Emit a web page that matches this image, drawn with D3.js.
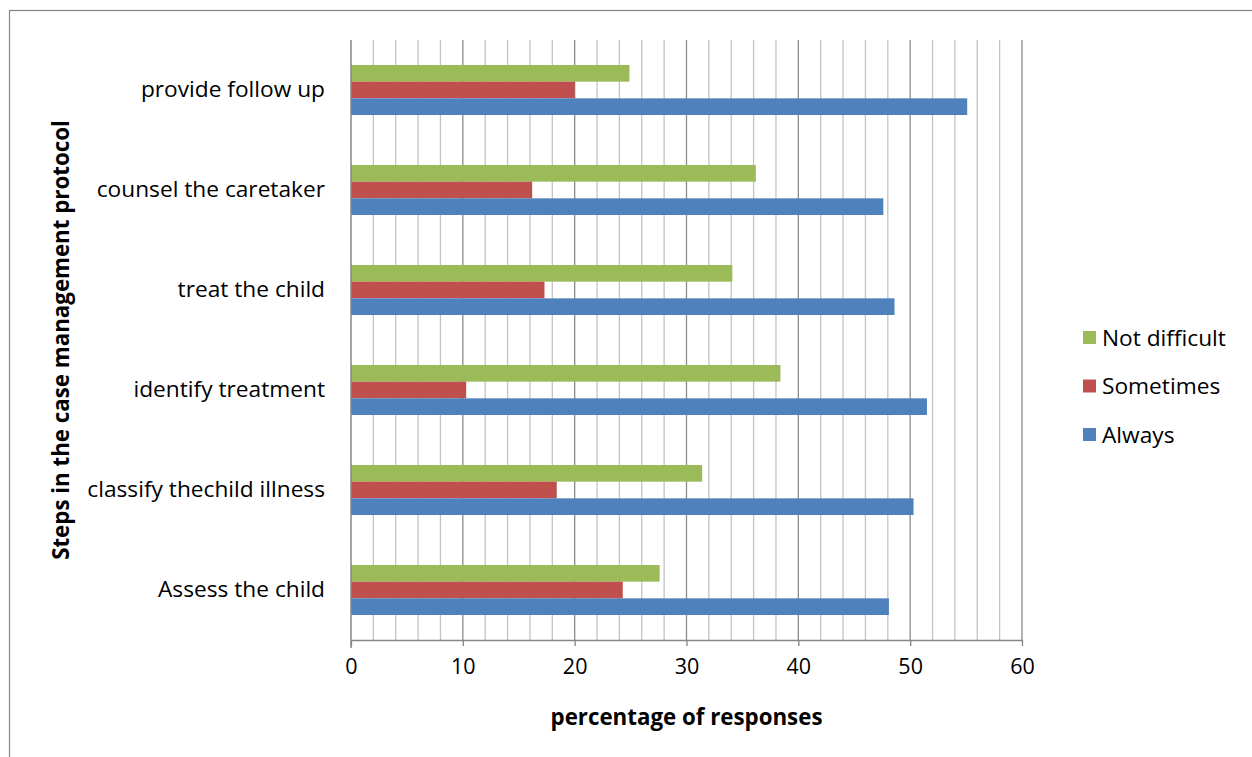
<!DOCTYPE html>
<html>
<head>
<meta charset="utf-8">
<script src="https://cdn.jsdelivr.net/npm/d3@7/dist/d3.min.js"></script>
<style>
  html, body { margin: 0; padding: 0; background: #fff; }
  svg { display: block; font-family: "Open Sans", Lato, sans-serif; }
</style>
</head>
<body>
<svg id="chart" width="1252" height="757"></svg>
<script>
// Steps of the case management protocol, listed bottom to top
const steps = [
  "Assess the child",
  "classify thechild illness",
  "identify treatment",
  "treat the child",
  "counsel the caretaker",
  "provide follow up"
];

// Series drawn within each step, top to bottom
const seriesNames = ["Not difficult", "Sometimes", "Always"];
const seriesColors = ["#9bbb59", "#c0504d", "#4f81bd"];

const notDifficult = [27.6, 31.4, 38.4, 34.1, 36.2, 24.9];
const sometimes    = [24.3, 18.4, 10.3, 17.3, 16.2, 20.0];
const always       = [48.1, 50.3, 51.5, 48.6, 47.6, 55.1];

const xTicks = [0, 10, 20, 30, 40, 50, 60];
const xTitle = "percentage of responses";
const yTitle = "Steps in the case management protocol";

const values = [notDifficult, sometimes, always];

const FONT = "'Open Sans', sans-serif";
const LABEL_SIZE = "22.7px";
const TICK_SIZE = "21.5px";
const TITLE_SIZE = "22.3px";

const svg = d3.select("#chart");
const plot = { left: 351, right: 1022, top: 40, bottom: 640 };

// Outer chart border
svg.append("rect")
  .attr("x", 9.5).attr("y", 10.5)
  .attr("width", 1300).attr("height", 800)
  .attr("fill", "none").attr("stroke", "#868686").attr("stroke-width", 1.2);

const x = d3.scaleLinear().domain([0, 60]).range([plot.left, plot.right]);

// Top of chart = last step in the list
const y = d3.scaleBand()
  .domain(steps.slice().reverse())
  .range([plot.top, plot.bottom])
  .paddingInner(0.5)
  .paddingOuter(0.25);

const ySeries = d3.scaleBand()
  .domain(seriesNames)
  .range([0, y.bandwidth()]);

// Minor gridlines every 2, major every 10
const minor = d3.range(2, 61, 2).filter(v => v % 10 !== 0);
const major = xTicks.filter(v => v > 0);

svg.append("g").selectAll("line").data(minor).join("line")
  .attr("x1", d => x(d)).attr("x2", d => x(d))
  .attr("y1", plot.top).attr("y2", plot.bottom)
  .attr("stroke", "#c3c3c3").attr("stroke-width", 1.3);

svg.append("g").selectAll("line").data(major).join("line")
  .attr("x1", d => x(d)).attr("x2", d => x(d))
  .attr("y1", plot.top).attr("y2", plot.bottom)
  .attr("stroke", "#8c8c8c").attr("stroke-width", 1.3);

// Bars
const groups = svg.append("g").selectAll("g").data(steps).join("g")
  .attr("transform", d => `translate(0,${y(d)})`);

groups.selectAll("rect")
  .data((step, i) => seriesNames.map((s, k) => ({ s, k, v: values[k][i] })))
  .join("rect")
  .attr("x", x(0))
  .attr("y", d => ySeries(d.s))
  .attr("width", d => x(d.v) - x(0))
  .attr("height", ySeries.bandwidth())
  .attr("fill", d => seriesColors[d.k]);

// X axis
const xAxis = svg.append("g")
  .attr("transform", `translate(0,${plot.bottom})`)
  .call(d3.axisBottom(x).tickValues(xTicks).tickSize(6).tickPadding(13).tickSizeOuter(0));
xAxis.select(".domain").attr("stroke", "#868686").attr("stroke-width", 1.5);
xAxis.selectAll(".tick line").attr("stroke", "#868686").attr("stroke-width", 1.3);
xAxis.selectAll(".tick text")
  .attr("fill", "#000").style("font-size", TICK_SIZE).style("font-family", FONT);

// Y axis (category labels only)
const yAxis = svg.append("g")
  .attr("transform", `translate(${plot.left},0)`)
  .call(d3.axisLeft(y).tickSize(0).tickPadding(26));
yAxis.select(".domain").remove();
yAxis.selectAll(".tick text")
  .attr("fill", "#000").style("font-size", LABEL_SIZE).style("font-family", FONT);

svg.append("line")
  .attr("x1", plot.left).attr("x2", plot.left)
  .attr("y1", plot.top).attr("y2", plot.bottom + 8)
  .attr("stroke", "#868686").attr("stroke-width", 1.5);

// Axis titles
svg.append("text")
  .attr("x", (plot.left + plot.right) / 2).attr("y", 725)
  .attr("text-anchor", "middle")
  .style("font-size", TITLE_SIZE).style("font-weight", "bold")
  .text(xTitle);

svg.append("text")
  .attr("transform", `translate(69,${(plot.top + plot.bottom) / 2}) rotate(-90)`)
  .attr("text-anchor", "middle")
  .style("font-size", TITLE_SIZE).style("font-weight", "bold")
  .text(yTitle);

// Legend
const legend = svg.append("g").attr("transform", "translate(1083,338)");
const li = legend.selectAll("g").data(seriesNames).join("g")
  .attr("transform", (d, i) => `translate(0,${i * 48.5})`);
li.append("rect")
  .attr("x", 0).attr("y", -7).attr("width", 13).attr("height", 13)
  .attr("fill", (d, i) => seriesColors[i]);
li.append("text")
  .attr("x", 19).attr("y", 0).attr("dy", "0.35em")
  .style("font-size", LABEL_SIZE)
  .text(d => d);
</script>
</body>
</html>
